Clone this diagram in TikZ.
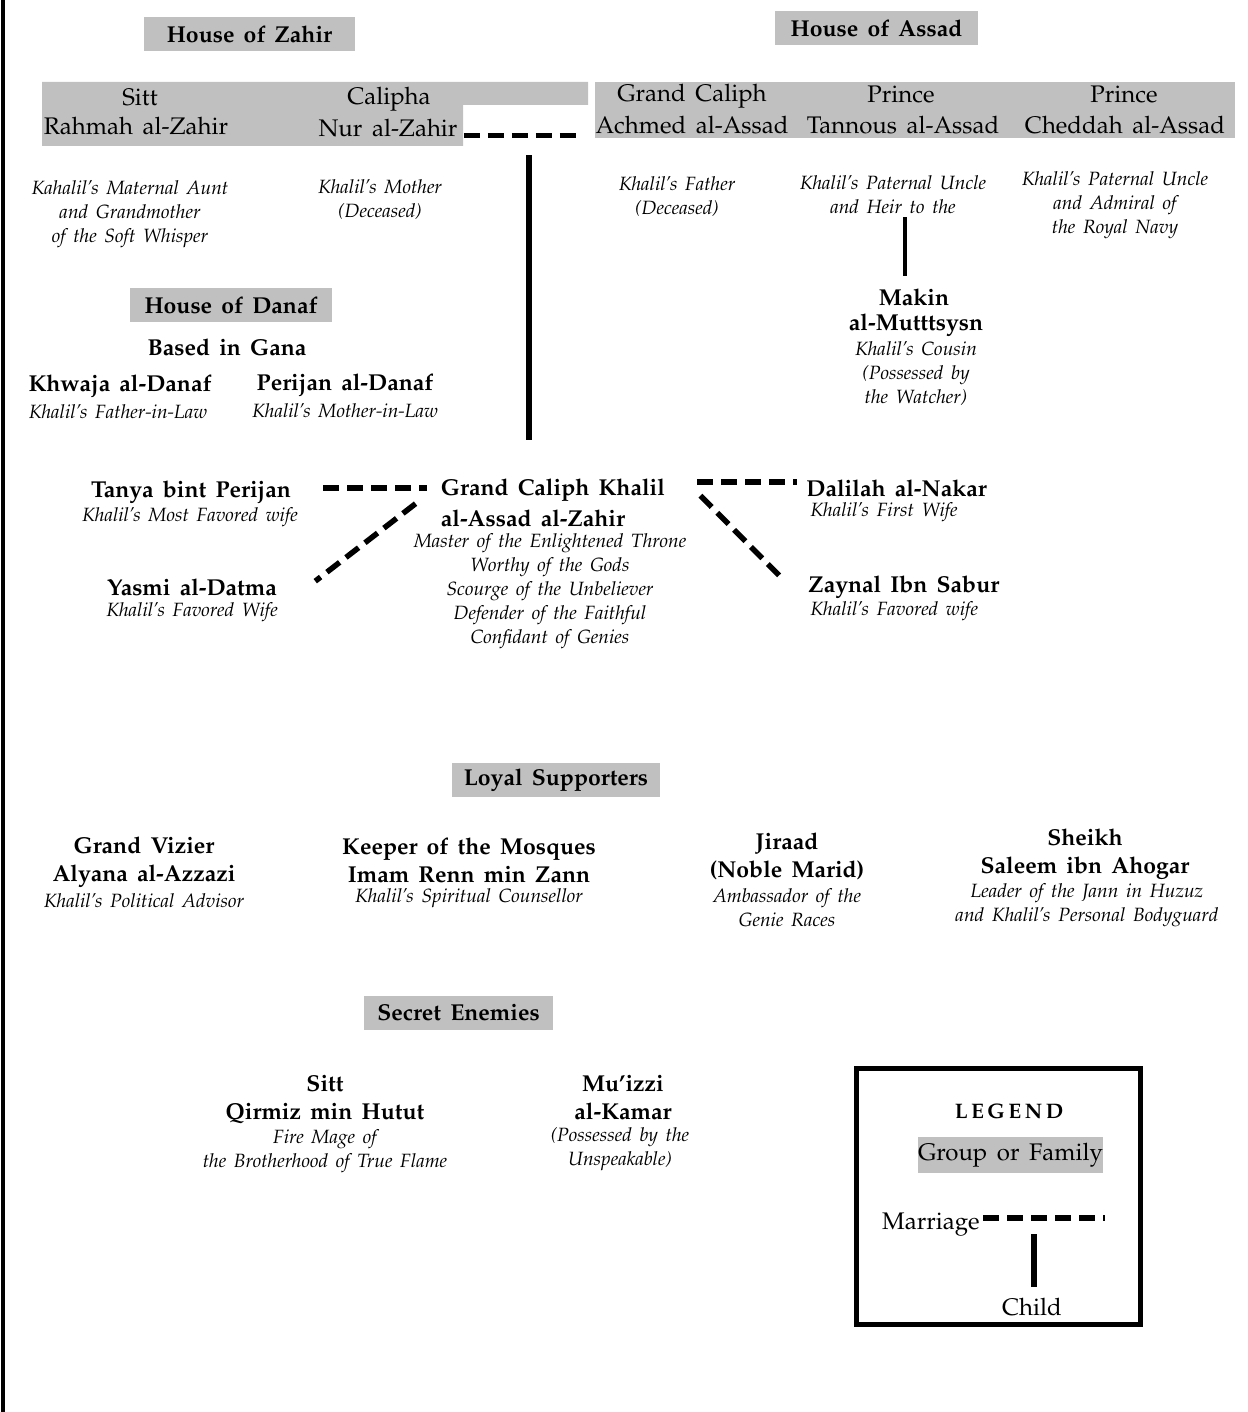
\documentclass[tikz,border=0pt]{standalone}
\usepackage[T1]{fontenc}
\usepackage{mathpazo}
\usepackage{xcolor}
\usepackage{tikz}
\usetikzlibrary{positioning, calc}
\definecolor{famgray}{HTML}{C0C0C0}
\newcommand{\widespace}{\spaceskip=0.4em plus 0.1em\relax}

\begin{document}
\begin{tikzpicture}[x=0.5pt, y=-0.5pt,
  person/.style={inner sep=0pt, align=center, font=\fontsize{11.5}{14}\selectfont\bfseries\widespace},
  head/.style={inner sep=0pt, align=center, font=\fontsize{12}{14.5}\selectfont\widespace},
  role/.style={inner sep=0pt, align=center, font=\fontsize{9.6}{12}\selectfont\itshape\widespace},
  family/.style={fill=famgray, inner xsep=4pt, inner ysep=0pt, minimum height=17pt,
    font=\fontsize{11.5}{14}\selectfont\bfseries\widespace},
  keytext/.style={inner sep=0pt, font=\fontsize{12}{14}\selectfont\widespace},
  marriage/.style={line width=2.75pt, dash pattern=on 8pt off 4pt},
  childline/.style={line width=2.75pt},
  link/.style={line width=2pt},
]
  \useasboundingbox (0,0) rectangle (1247,1412);
  \draw[line width=1.7pt] (3,0) -- (3,1412);

  % House of Zahir
  \node[family, minimum width=105.5pt] (zahir) at (249.5,34.5) {House of Zahir};
  \fill[famgray] (42,82) -- (588,82) -- (588,105) -- (463,105) -- (463,146) -- (42,146) -- cycle;
  \node[head] (rahmahTitle) at (140,97) {Sitt};
  \node[head] (rahmah) at (136,126) {Rahmah al-Zahir};
  \node[head] (nurTitle) at (389,99) {Calipha};
  \node[head] (nur) at (388,128) {Nur al-Zahir};
  \node[role] (rahmahRole) at (130,214) {Kahalil's Maternal Aunt\\and Grandmother\\of the Soft Whisper};
  \node[role] (nurRole) at (380,200) {Khalil's Mother\\(Deceased)};

  % House of Assad
  \node[family, minimum width=101.5pt] (assad) at (876.5,28) {House of Assad};
  \fill[famgray] (595,82) rectangle (1235,138);
  \node[head] (achmedTitle) at (692,96) {Grand Caliph};
  \node[head] (achmed) at (692,125) {Achmed al-Assad};
  \node[head] (tannousTitle) at (901,94) {Prince};
  \node[head] (tannous) at (903,125) {Tannous al-Assad};
  \node[head] (cheddahTitle) at (1124,94) {Prince};
  \node[head] (cheddah) at (1125,125) {Cheddah al-Assad};
  \node[role] (achmedRole) at (677,197) {Khalil's Father\\(Deceased)};
  \node[role] (tannousRole) at (893,195) {Khalil's Paternal Uncle\\and Heir to the};
  \node[role] (cheddahRole) at (1115,205) {Khalil's Paternal Uncle\\and Admiral of\\the Royal Navy};
  \node[person] (makin) at (914,297) {Makin};
  \node[person] (makinName) at (916,325) {al-Mutttsysn};
  \node[role] (makinRole) at (916,374) {Khalil's Cousin\\(Possessed by\\the Watcher)};

  % House of Danaf
  \node[family, minimum width=101pt] (danaf) at (231,305) {House of Danaf};
  \node[person] (gana) at (227,347) {Based in Gana};
  \node[person] (khwaja) at (120,386) {Khwaja al-Danaf};
  \node[role] (khwajaRole) at (118,412) {Khalil's Father-in-Law};
  \node[person] (perijan) at (345,385) {Perijan al-Danaf};
  \node[role] (perijanRole) at (345,411) {Khalil's Mother-in-Law};

  % Khalil and his wives
  \node[person] (khalil) at (553,490) {Grand Caliph Khalil};
  \node[person] (khalilName) at (533,518) {al-Assad al-Zahir};
  \node[role] (khalilRole) at (550,591) {Master of the Enlightened Throne\\Worthy of the Gods\\Scourge of the Unbeliever\\Defender of the Faithful\\Confidant of Genies};
  \node[person] (tanya) at (191,492) {Tanya bint Perijan};
  \node[role] (tanyaRole) at (190,517) {Khalil's Most Favored wife};
  \node[person] (yasmi) at (192,587) {Yasmi al-Datma};
  \node[role] (yasmiRole) at (192,612) {Khalil's Favored Wife};
  \node[person, anchor=west] (dalilah) at (806,488) {Dalilah al-Nakar};
  \node[role, anchor=west] (dalilahRole) at (810,512) {Khalil's First Wife};
  \node[person, anchor=west] (zaynal) at (808,587) {Zaynal Ibn Sabur};
  \node[role, anchor=west] (zaynalRole) at (810,611) {Khalil's Favored wife};

  \draw[marriage] ([shift={(6,-1)}]nur.base east) -- coordinate[pos=0.56] (nurAchmed)
    ([shift={(-15,-1)}]nur.base east -| achmed.west);
  \draw[childline, shorten >=19pt] ([yshift=-10pt]nurAchmed) -- (nurAchmed |- khalil.north);
  \draw[link, shorten <=1.5pt, shorten >=6pt] ([xshift=6pt]tannousRole.south) -- ([xshift=6pt]tannousRole.south |- makin.north);
  \draw[marriage, shorten <=16pt, shorten >=7pt] ([yshift=2pt]tanya.east) -- ([yshift=2pt]tanya.east -| khalil.west);
  \draw[marriage, shorten <=16pt, shorten >=4.5pt] ([yshift=3pt]dalilah.west -| khalil.east) -- ([yshift=3pt]dalilah.west);
  \draw[marriage] ([shift={(-25,2)}]khalil.south west) -- ([shift={(38,3)}]yasmi.north east);
  \draw[marriage] ([shift={(35,-6)}]khalil.south east) -- ([shift={(-26,3)}]zaynal.north west);

  % Loyal Supporters
  \node[family, minimum width=104pt] (loyal) at (556,780) {Loyal Supporters};
  \node[person] (vizier) at (144,862) {Grand Vizier\\Alyana al-Azzazi};
  \node[role] (vizierRole) at (144,901) {Khalil's Political Advisor};
  \node[person] (imam) at (469,860) {Keeper of the Mosques\\Imam Renn min Zann};
  \node[role] (imamRole) at (469,898) {Khalil's Spiritual Counsellor};
  \node[person] (jiraad) at (787,856) {Jiraad\\(Noble Marid)};
  \node[role] (jiraadRole) at (787,908) {Ambassador of the\\Genie Races};
  \node[person] (saleem) at (1085,854) {Sheikh\\Saleem ibn Ahogar};
  \node[role] (saleemRole) at (1087,905) {Leader of the Jann in Huzuz\\and Khalil's Personal Bodyguard};

  % Secret Enemies
  \node[family, minimum width=94.5pt] (secret) at (458.5,1013) {Secret Enemies};
  \node[person] (qirmiz) at (325,1100) {Sitt\\Qirmiz min Hutut};
  \node[role] (qirmizRole) at (325,1151) {Fire Mage of\\the Brotherhood of True Flame};
  \node[person] (muizzi) at (623,1098) {Mu'izzi\\al-Kamar};
  \node[role] (muizziRole) at (620,1149) {(Possessed by the\\Unspeakable)};

  % Legend
  \draw[line width=2.5pt] (856,1068) rectangle (1140,1324);
  \node[inner sep=0pt, font=\fontsize{10.5}{12}\selectfont\bfseries] (legendTitle) at (1009,1111) {L\,E\,G\,E\,N\,D};
  \node[family, keytext, minimum width=92.5pt, minimum height=18pt] (groupKey) at (1010.5,1155) {Group or Family};
  \node[keytext, anchor=east] (marriageKey) at (980,1225) {Marriage};
  \coordinate (marriageEnd) at (1105,1218);
  \node[keytext] (childKey) at (1032,1307) {Child};
  \draw[marriage] ([xshift=1.5pt]marriageKey.east |- marriageEnd) -- (marriageEnd);
  \draw[childline, shorten <=8pt, shorten >=5.5pt] ([xshift=1pt]childKey.north |- marriageEnd) -- ([xshift=1pt]childKey.north);
\end{tikzpicture}
\end{document}
